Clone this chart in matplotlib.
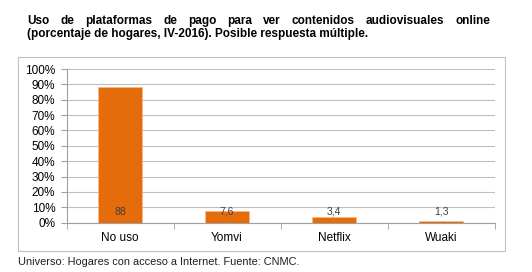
import matplotlib
matplotlib.use("Agg")
import matplotlib.pyplot as plt
from matplotlib.patches import Rectangle
import numpy as np

categories = ["No uso", "Yomvi", "Netflix", "Wuaki"]
values = [88, 7.6, 3.4, 1.3]
value_labels = ["88", "7,6", "3,4", "1,3"]
yticks = [0, 10, 20, 30, 40, 50, 60, 70, 80, 90, 100]
ytick_labels = [f"{v}%" for v in yticks]
title_line1 = "Uso de plataformas de pago para ver contenidos audiovisuales online"
title_line2 = "(porcentaje de hogares, IV-2016). Posible respuesta múltiple."
footer = "Universo: Hogares con acceso a Internet. Fuente: CNMC."

plt.rcParams['font.family'] = ['Liberation Sans', 'DejaVu Sans']

W, H = 532, 272
fig = plt.figure(figsize=(W/100, H/100), dpi=100)
fig.patch.set_facecolor("white")

def fx(px): return px / W
def fy(py): return 1 - py / H

# chart border
fig.patches.append(Rectangle((fx(18), fy(251)), fx(505) - fx(18), fy(57) - fy(251),
                             transform=fig.transFigure, fill=False,
                             edgecolor="#BFBFBF", linewidth=0.8))

ax = fig.add_axes([fx(66.5), fy(222.7), fx(494.5) - fx(66.5), fy(69) - fy(222.7)])
x = np.arange(len(categories))
ax.bar(x, values, width=0.42, color="#E46C0A", edgecolor="#F6B98A", linewidth=0.6, zorder=3)
for xi, lab in zip(x, value_labels):
    ax.text(xi, 7.0, lab, ha="center", va="center", fontsize=7.5, color="#404040", zorder=4)

ax.set_xlim(-0.5, len(categories) - 0.5)
ax.set_ylim(0, 100)
ax.set_yticks(yticks)
ax.set_yticklabels(ytick_labels, fontsize=8.5, color="#000000")
ax.yaxis.grid(True, color="#BFBFBF", linewidth=0.8, zorder=0)
ax.set_axisbelow(True)
ax.tick_params(axis="y", length=4, color="#A0A0A0", pad=4)
ax.set_xticks(x)
ax.set_xticklabels(categories, fontsize=8.5)
ax.set_xticks(np.arange(-0.5, len(categories)), minor=True)
ax.tick_params(axis="x", which="major", length=0, pad=7)
ax.tick_params(axis="x", which="minor", length=4, color="#A0A0A0")
for s in ["top", "right"]:
    ax.spines[s].set_visible(False)
ax.spines["left"].set_color("#A0A0A0")
ax.spines["bottom"].set_color("#A0A0A0")
ax.spines["left"].set_linewidth(0.8)
ax.spines["bottom"].set_linewidth(0.8)

# justified title line 1
fig.canvas.draw()
renderer = fig.canvas.get_renderer()
words = title_line1.split(" ")
left_px, right_px = 27, 490
tmp = [fig.text(0, 0, w, fontsize=8.5, fontweight="bold") for w in words]
widths = [t.get_window_extent(renderer).width for t in tmp]
for t in tmp:
    t.remove()
gap = (right_px - left_px - sum(widths)) / (len(words) - 1)
cur = left_px
for w, wd in zip(words, widths):
    fig.text(fx(cur), fy(24), w, fontsize=8.5, fontweight="bold", va="baseline", ha="left")
    cur += wd + gap
fig.text(fx(27), fy(37), title_line2, fontsize=8.5, fontweight="bold", va="baseline", ha="left")

fig.text(fx(18), fy(265), footer, fontsize=7.9, color="#202020", va="baseline", ha="left")

fig.savefig("out.png", dpi=100)
